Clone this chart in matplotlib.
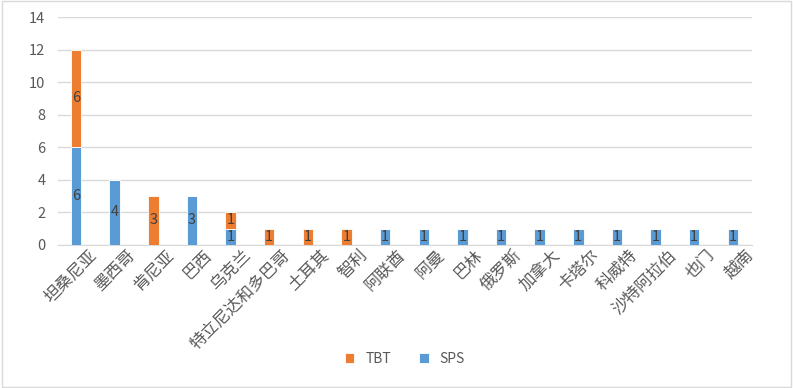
import matplotlib.pyplot as plt
import matplotlib.transforms as mtransforms
import numpy as np

plt.rcParams['font.family'] = ['Noto Sans CJK SC', 'DejaVu Sans']

countries = ['坦桑尼亚', '墨西哥', '肯尼亚', '巴西', '乌克兰', '特立尼达和多巴哥', '土耳其', '智利',
             '阿联酋', '阿曼', '巴林', '俄罗斯', '加拿大', '卡塔尔', '科威特', '沙特阿拉伯', '也门', '越南']
sps = [6, 4, 0, 3, 1, 0, 0, 0, 1, 1, 1, 1, 1, 1, 1, 1, 1, 1]
tbt = [6, 0, 3, 0, 1, 1, 1, 1, 0, 0, 0, 0, 0, 0, 0, 0, 0, 0]

blue = '#5B9BD5'
orange = '#ED7D31'
txt = '#595959'

fig = plt.figure(figsize=(7.93, 3.88), dpi=100)
fig.patches.append(plt.Rectangle((0.002, 0.003), 0.996, 0.994, transform=fig.transFigure,
                                 fill=False, edgecolor='#D9D9D9', linewidth=1))
ax = fig.add_axes([0.073, 0.369, 0.875, 0.587])

x = np.arange(len(countries))
w = 0.27
b1 = ax.bar(x, sps, w, color=blue, edgecolor='white', linewidth=0.6, label='SPS', zorder=3)
b2 = ax.bar(x, tbt, w, bottom=sps, color=orange, edgecolor='white', linewidth=0.6, label='TBT', zorder=3)

for bars, vals, bottoms in [(b1, sps, [0] * len(sps)), (b2, tbt, sps)]:
    for rect, v, b in zip(bars, vals, bottoms):
        if v > 0:
            ax.text(rect.get_x() + rect.get_width() / 2, b + v / 2, str(v),
                    ha='center', va='center', fontsize=10.5, color='#404040', zorder=4)

ax.set_xlim(-0.47, 17.49)
ax.set_ylim(0, 14)
ax.set_yticks(range(0, 15, 2))
ax.yaxis.grid(True, color='#D9D9D9', linewidth=1, zorder=0)
for s in ['top', 'right', 'left']:
    ax.spines[s].set_visible(False)
ax.spines['bottom'].set_color('#D9D9D9')
ax.tick_params(axis='both', length=0, colors=txt, labelsize=10.5)
ax.tick_params(axis='y', pad=9)
ax.set_xticks(x)
ax.set_xticklabels(countries, rotation=45, ha='right', rotation_mode='anchor', fontsize=12)
ax.tick_params(axis='x', pad=2)
# shift labels right so their ends sit past the tick like Excel does
offset = mtransforms.ScaledTranslation(12 / 100, 1 / 100, fig.dpi_scale_trans)
for lab in ax.get_xticklabels():
    lab.set_transform(lab.get_transform() + offset)

h, l = ax.get_legend_handles_labels()
ax.legend(h[::-1], l[::-1], loc='center', bbox_to_anchor=(0.5, -0.5), ncol=2, frameon=False,
          fontsize=10, handlelength=0.7, handleheight=0.7, columnspacing=2.0, labelcolor=txt)

fig.savefig('out.png', dpi=100)
